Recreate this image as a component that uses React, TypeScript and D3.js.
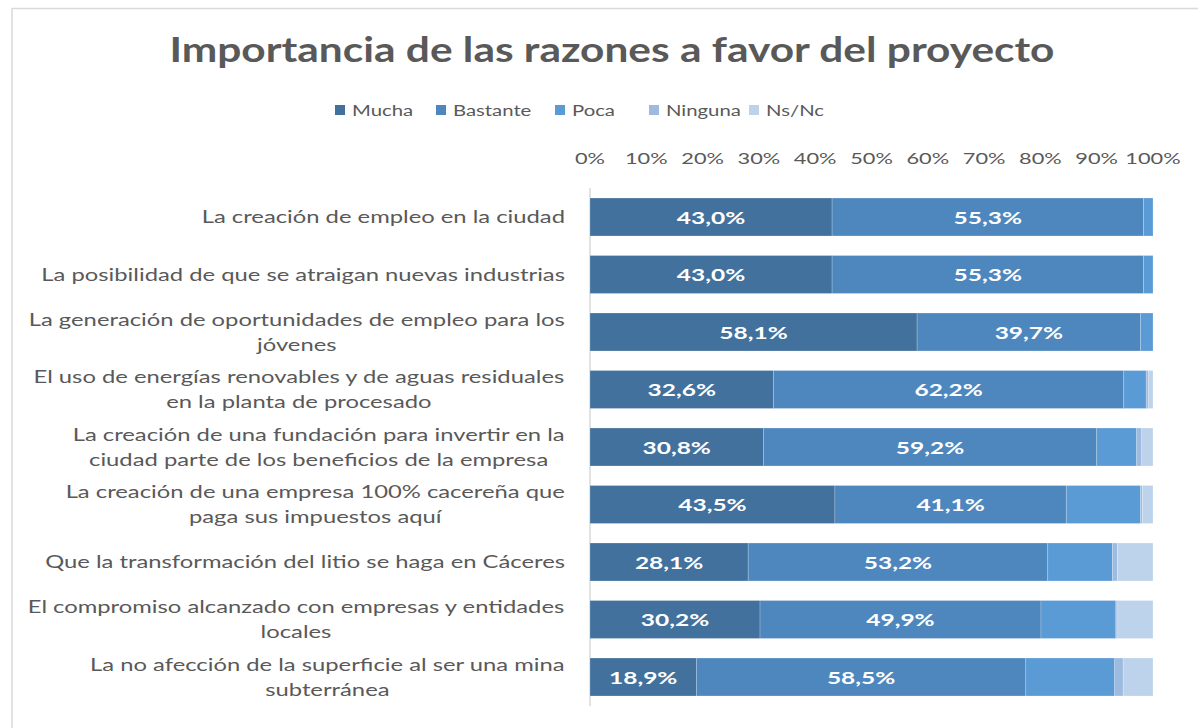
import React from "react";
import * as d3 from "d3";

const TITLE = "Importancia de las razones a favor del proyecto";
const categories = [
  "La creación de empleo en la ciudad",
  "La posibilidad de que se atraigan nuevas industrias",
  "La generación de oportunidades de empleo para los\njóvenes",
  "El uso de energías renovables y de aguas residuales\nen la planta de procesado",
  "La creación de una fundación para invertir en la\nciudad parte de los beneficios de la empresa",
  "La creación de una empresa 100% cacereña que\npaga sus impuestos aquí",
  "Que la transformación del litio se haga en Cáceres",
  "El compromiso alcanzado con empresas y entidades\nlocales",
  "La no afección de la superficie al ser una mina\nsubterránea",
];
const seriesNames = ["Mucha", "Bastante", "Poca", "Ninguna", "Ns/Nc"];
const mucha = [43.0, 43.0, 58.1, 32.6, 30.8, 43.5, 28.1, 30.2, 18.9];
const bastante = [55.3, 55.3, 39.7, 62.2, 59.2, 41.1, 53.2, 49.9, 58.5];
const poca = [1.7, 1.7, 2.2, 4.0, 7.1, 13.2, 11.5, 13.3, 15.8];
const ninguna = [0, 0, 0, 0.4, 0.9, 0.3, 0.9, 0.2, 1.5];
const nsnc = [0, 0, 0, 0.8, 2.0, 1.9, 6.3, 6.4, 5.3];
const ticks = [0, 10, 20, 30, 40, 50, 60, 70, 80, 90, 100];
const colors = ["#41719C", "#4E87BE", "#5B9BD5", "#9DBBE0", "#BDD3EB"];

const W = 1198;
const H = 728;
const FONT = "Lato, 'Open Sans', sans-serif";
const LABEL_SIZE = 17.5;
const SX = 1.36;

let ctx: CanvasRenderingContext2D | null = null;
function measure(txt: string, size: number, weight = 400) {
  if (!ctx) ctx = document.createElement("canvas").getContext("2d");
  if (!ctx) return txt.length * size * 0.5;
  ctx.font = `${weight} ${size}px Lato, 'Open Sans', sans-serif`;
  return ctx.measureText(txt).width;
}

function SText({ x, y, sx = SX, children, ...rest }: any) {
  return (
    <text transform={`translate(${x},${y}) scale(${sx},1)`} {...rest}>
      {children}
    </text>
  );
}

export default function App() {
  const x = d3.scaleLinear().domain([0, 100]).range([590, 1153]);
  const y = d3.scaleBand<string>().domain(categories).range([188.25, 705.75]).paddingInner(0.34).paddingOuter(0.17);
  const rows = categories.map((c, i) => ({
    cat: c,
    Mucha: mucha[i],
    Bastante: bastante[i],
    Poca: poca[i],
    Ninguna: ninguna[i],
    "Ns/Nc": nsnc[i],
  }));
  const stack = d3.stack<any>().keys(seriesNames)(rows);
  const fmt = (v: number) => v.toFixed(1).replace(".", ",") + "%";
  const legendX = [335, 436, 555, 649, 749];

  return (
    <svg width={W} height={H} style={{ position: "absolute", left: 0, top: 0 }} fontFamily={FONT}>
      <rect x={0} y={0} width={W} height={H} fill="#fff" />
      <rect x={12} y={8.5} width={W + 10} height={H} fill="none" stroke="#d9d9d9" strokeWidth={1.5} />
      <text x={612} y={62} textAnchor="middle" fontSize={34} fontWeight={700} fill="#595959" textLength={885} lengthAdjust="spacingAndGlyphs">
        {TITLE}
      </text>
      {seriesNames.map((s, i) => (
        <g key={s}>
          <rect x={legendX[i]} y={105} width={10} height={10} fill={colors[i]} />
          <SText x={legendX[i] + 17} y={116} sx={1.27} fontSize={16} fill="#595959">{s}</SText>
        </g>
      ))}
      {ticks.map((t) => (
        <SText key={t} x={x(t)} y={164} sx={1.36} textAnchor="middle" fontSize={16} fill="#595959">{t}%</SText>
      ))}
      <line x1={590} x2={590} y1={188} y2={706} stroke="#d9d9d9" strokeWidth={1.5} />
      {stack.map((layer, si) => (
        <g key={seriesNames[si]} fill={colors[si]}>
          {layer.map((d, i) => {
            const w = x(d[1]) - x(d[0]);
            if (w <= 0) return null;
            return (
              <rect key={i} x={x(d[0])} y={y(categories[i])!} width={w} height={y.bandwidth()} stroke="#ffffff" strokeOpacity={0.25} strokeWidth={0.8} />
            );
          })}
        </g>
      ))}
      {stack.slice(0, 2).map((layer, si) => (
        <g key={"lbl" + si}>
          {layer.map((d, i) => (
            <SText key={i} x={(x(d[0]) + x(d[1])) / 2} y={y(categories[i])! + y.bandwidth() / 2 + 6.5} sx={1.4} textAnchor="middle" fontSize={17.5} fontWeight={700} fill="#ffffff">
              {fmt(d[1] - d[0])}
            </SText>
          ))}
        </g>
      ))}
      {categories.map((c, i) => {
        const lines = c.split("\n");
        const cy = y(c)! + y.bandwidth() / 2;
        const lh = 25;
        const y0 = cy - ((lines.length - 1) * lh) / 2 + 6;
        const maxW = Math.max(...lines.map((l) => measure(l, LABEL_SIZE))) * SX;
        const right = 565;
        const cx = lines.length > 1 ? right - maxW / 2 : right;
        return (
          <g key={c}>
            {lines.map((ln, k) => (
              <SText key={k} x={cx} y={y0 + k * lh} textAnchor={lines.length > 1 ? "middle" : "end"} fontSize={LABEL_SIZE} fill="#595959">
                {ln}
              </SText>
            ))}
          </g>
        );
      })}
    </svg>
  );
}
